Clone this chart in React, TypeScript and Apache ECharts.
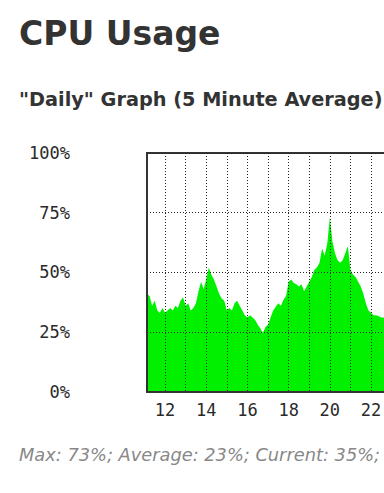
import React, { useEffect, useRef } from "react";
import * as echarts from "echarts";

const PAGE_TITLE = "CPU Usage";
const GRAPH_TITLE = '"Daily" Graph (5 Minute Average)';
const SUMMARY = "Max: 73%; Average: 23%; Current: 35%;";

const START_HOUR = 11.125;
const STEP_HOURS = 0.125;
const X_MAX = 23;

const cpuValues: number[] = [
  41, 40, 36, 38, 34, 33, 35, 33, 34, 35,
  34, 36, 35, 38, 39.5, 36, 37, 34, 35, 37,
  42, 46, 43, 47, 52, 49, 47, 44, 41, 39,
  38, 34, 35, 34, 37, 38, 36, 34, 32, 31,
  32, 31, 30, 28, 26.5, 24.5, 27, 28, 31, 34,
  35.5, 37, 36, 38.5, 40, 46, 47, 45.5, 45, 44,
  45, 42, 44, 46, 48, 51, 52, 54, 60, 57,
  62, 73, 63, 58, 55, 54, 55, 58, 61, 51,
  49, 48, 46, 44, 41, 37, 34, 33, 32, 32,
  31.5, 31, 31, 31,
];

const hourTicks: number[] = [12, 13, 14, 15, 16, 17, 18, 19, 20, 21, 22];
const hourLabels: number[] = [12, 14, 16, 18, 20, 22];
const yTicks: number[] = [0, 25, 50, 75, 100];

export default function App() {
  const ref = useRef<HTMLDivElement>(null);

  useEffect(() => {
    if (!ref.current) return;
    const chart = echarts.init(ref.current, undefined, { renderer: "svg" });
    const data = cpuValues.map((v, i) => [START_HOUR + i * STEP_HOURS, v]);
    const labelFont = {
      fontFamily: '"DejaVu Sans Mono"',
      fontSize: 17,
      color: "#2a2a2a",
    };
    const dotted = { color: "#222", width: 1, type: [1, 2] as any };
    chart.setOption({
      animation: false,
      backgroundColor: "#fff",
      grid: {
        left: 147,
        top: 153,
        width: (X_MAX - START_HOUR) * 20.6,
        height: 238.5,
        show: true,
        borderColor: "#333",
        borderWidth: 2,
        backgroundColor: "#fff",
        outerBoundsMode: "none",
        containLabel: false,
      },
      xAxis: {
        type: "value",
        min: START_HOUR,
        max: X_MAX,
        z: 5,
        axisLine: { show: true, onZero: false, lineStyle: { color: "#333", width: 2 } },
        axisTick: { show: false, customValues: hourTicks },
        splitLine: { show: true, lineStyle: dotted },
        axisLabel: {
          customValues: hourLabels,
          margin: 10,
          ...labelFont,
        },
      },
      yAxis: {
        type: "value",
        min: 0,
        max: 100,
        interval: 25,
        z: 5,
        axisLine: { show: true, lineStyle: { color: "#333", width: 2 } },
        axisTick: { show: false },
        splitLine: { show: true, lineStyle: dotted },
        axisLabel: {
          margin: 77,
          formatter: (v: number) => (yTicks.includes(v) ? v + "%" : ""),
          ...labelFont,
        },
      },
      series: [
        {
          type: "line",
          data,
          showSymbol: false,
          symbol: "none",
          lineStyle: { width: 0 },
          areaStyle: { color: "#00f000", opacity: 1 },
          z: 2,
        },
      ],
      graphic: [
        {
          type: "text",
          x: 19,
          y: 33,
          style: {
            text: PAGE_TITLE,
            font: 'bold 33px "DejaVu Sans"',
            fill: "#333",
            verticalAlign: "middle",
          },
        },
        {
          type: "text",
          x: 19,
          y: 99,
          style: {
            text: GRAPH_TITLE,
            font: 'bold 19.3px "DejaVu Sans"',
            fill: "#333",
            verticalAlign: "middle",
          },
        },
        {
          type: "text",
          x: 19,
          y: 454,
          style: {
            text: SUMMARY,
            font: 'italic 17.8px "DejaVu Sans"',
            fill: "#888",
            verticalAlign: "middle",
          },
        },
      ],
    });
    return () => chart.dispose();
  }, []);

  return (
    <div
      style={{
        position: "fixed",
        left: 0,
        top: 0,
        width: 384,
        height: 493,
        overflow: "hidden",
        background: "#fff",
      }}
    >
      <div ref={ref} style={{ width: 420, height: 493 }} />
    </div>
  );
}
